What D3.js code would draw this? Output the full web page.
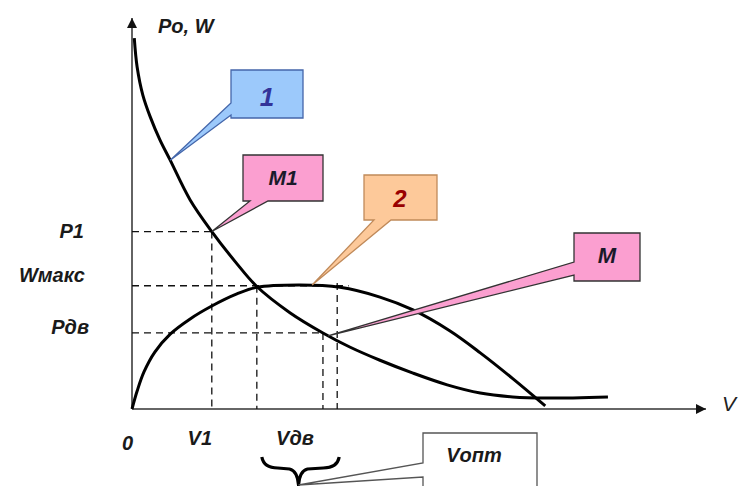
<!DOCTYPE html>
<html lang="ru">
<head>
<meta charset="UTF-8">
<title>Po, W (V)</title>
<script src="https://d3js.org/d3.v7.min.js"></script>
<style>
    body { margin: 0; background: #fff; }
    text { font-family: "Liberation Sans", Arial, sans-serif; font-weight: bold; font-style: italic; fill: #1a1a1a; }
</style>
</head>
<body>
<svg id="chart" width="738" height="486"></svg>
<script>
// curve 1: Po(V)
const vPo = [0.04, 0.09, 0.19, 0.32, 0.49, 0.67, 1.02, 1.40, 1.81, 2.19, 2.77, 3.35, 3.82, 4.35, 4.93, 5.53, 6.11, 6.68, 7.25, 8.35];
const po  = [9.51, 8.77, 8.05, 7.49, 6.90, 6.38, 5.36, 4.55, 3.78, 3.14, 2.47, 1.95, 1.59, 1.25, 0.92, 0.62, 0.41, 0.31, 0.28, 0.31];
// curve 2: W(V)
const vW = [0, 0.09, 0.21, 0.40, 0.67, 1.02, 1.40, 1.84, 2.19, 2.95, 3.65, 4.35, 4.93, 5.58, 6.11, 6.68, 7.25];
const w  = [0, 0.46, 0.95, 1.46, 1.92, 2.31, 2.64, 2.95, 3.12, 3.18, 3.12, 2.87, 2.54, 2.00, 1.44, 0.78, 0.08];

// levels on the vertical axis
const levelNames  = ["P1", "Wмакс", "Pдв"];
const levelValues = [4.55, 3.16, 1.95];
// speeds on the horizontal axis
const speedNames  = ["0", "V1", "Vдв"];
const speedValues = [0, 1.40, 3.35];
const vWmax = 2.19;           // V where Po = Wмакс
const vOpt  = [2.19, 3.60];   // optimal range

const svg = d3.select("#chart");
const x = d3.scaleLinear().domain([0, 10]).range([132, 702]);
const y = d3.scaleLinear().domain([0, 10]).range([409, 19]);

// arrow marker
svg.append("defs").append("marker")
    .attr("id", "arrow").attr("viewBox", "0 0 10 10")
    .attr("refX", 10).attr("refY", 5)
    .attr("markerWidth", 13).attr("markerHeight", 10)
    .attr("markerUnits", "userSpaceOnUse").attr("orient", "auto")
    .append("path").attr("d", "M0,0 L10,5 L0,10 Z").attr("fill", "#111");

// axes
svg.append("line").attr("x1", x(0)).attr("y1", y(0)).attr("x2", x(0)).attr("y2", 18)
    .attr("stroke", "#222").attr("stroke-width", 1.4).attr("marker-end", "url(#arrow)");
svg.append("line").attr("x1", x(0)).attr("y1", y(0)).attr("x2", 706).attr("y2", y(0))
    .attr("stroke", "#333").attr("stroke-width", 1.4).attr("marker-end", "url(#arrow)");

// dashed guides
const guides = [
    [[0, levelValues[0]], [speedValues[1], levelValues[0]]],
    [[speedValues[1], levelValues[0]], [speedValues[1], 0]],
    [[0, levelValues[1]], [vOpt[1] + 0.2, levelValues[1]]],
    [[vWmax, levelValues[1]], [vWmax, 0]],
    [[vOpt[1], levelValues[1] + 0.07], [vOpt[1], 0]],
    [[0, levelValues[2]], [speedValues[2], levelValues[2]]],
    [[speedValues[2], levelValues[2]], [speedValues[2], 0]]
];
svg.append("g").selectAll("line").data(guides).join("line")
    .attr("x1", d => x(d[0][0])).attr("y1", d => y(d[0][1]))
    .attr("x2", d => x(d[1][0])).attr("y2", d => y(d[1][1]))
    .attr("stroke", "#111").attr("stroke-width", 1.3).attr("stroke-dasharray", "7,5");

// curves
const line = d3.line().x(d => x(d[0])).y(d => y(d[1])).curve(d3.curveCatmullRom.alpha(0.5));
svg.append("path").attr("d", line(d3.zip(vPo, po)))
    .attr("fill", "none").attr("stroke", "#000").attr("stroke-width", 3);
svg.append("path").attr("d", line(d3.zip(vW, w)))
    .attr("fill", "none").attr("stroke", "#000").attr("stroke-width", 3);

// axis labels
svg.append("text").attr("x", 158).attr("y", 33).attr("font-size", 20).text("Po, W");
svg.append("text").attr("x", 722).attr("y", 411).attr("font-size", 21)
    .style("font-weight", "normal").style("fill", "#222").text("V");

const levelEnd = [84, 85, 89], levelDy = [6.5, -4, 1];
svg.append("g").selectAll("text").data(levelNames).join("text")
    .attr("x", (d, i) => levelEnd[i])
    .attr("y", (d, i) => y(levelValues[i]) + levelDy[i])
    .attr("text-anchor", "end").attr("font-size", 20).text(d => d);

const speedX = [x(speedValues[0]) + 1, x(speedValues[1]) - 12, (x(vOpt[0]) + x(vOpt[1])) / 2 - 2];
const speedY = [450, 445, 445];
svg.append("g").selectAll("text").data(speedNames).join("text")
    .attr("x", (d, i) => speedX[i]).attr("y", (d, i) => speedY[i])
    .attr("text-anchor", (d, i) => i === 0 ? "end" : "middle")
    .attr("font-size", 20).text(d => d);

// brace under the optimal range
const bx1 = x(vOpt[0]) + 5, bx2 = x(vOpt[1]) + 2, bm = (bx1 + bx2) / 2 - 2, by = 457;
svg.append("path")
    .attr("d", `M${bx1},${by} Q${bx1 + 2},${by + 11} ${bx1 + 16},${by + 11} L${bm - 9},${by + 12} Q${bm - 1},${by + 14} ${bm},${by + 28}`
        + ` Q${bm + 1},${by + 14} ${bm + 9},${by + 12} L${bx2 - 16},${by + 11} Q${bx2 - 2},${by + 11} ${bx2},${by}`)
    .attr("fill", "none").attr("stroke", "#000").attr("stroke-width", 3.2).attr("stroke-linejoin", "round");

// callouts
function callout(b, side, a, c, tip, fill, stroke) {
    let p;
    if (side === "left") {
        p = `M${b[0]},${b[1]} L${b[2]},${b[1]} L${b[2]},${b[3]} L${b[0]},${b[3]} L${b[0]},${c} L${tip[0]},${tip[1]} L${b[0]},${a} Z`;
    } else {
        p = `M${b[0]},${b[1]} L${b[2]},${b[1]} L${b[2]},${b[3]} L${c},${b[3]} L${tip[0]},${tip[1]} L${a},${b[3]} L${b[0]},${b[3]} Z`;
    }
    svg.append("path").attr("d", p).attr("fill", fill).attr("stroke", stroke)
        .attr("stroke-width", 1.3).attr("stroke-linejoin", "miter");
}
function label(t, cx, by, size, color) {
    svg.append("text").attr("x", cx).attr("y", by).attr("text-anchor", "middle")
        .attr("font-size", size).style("fill", color).text(t);
}

callout([231, 70, 303, 118], "left", 103, 115, [x(vPo[5]), y(po[5])], "#9cc9fb", "#4466aa");
label("1", 267, 106, 26, "#333399");

callout([243, 155, 323, 201], "bottom", 250, 268, [x(speedValues[1]), y(levelValues[0])], "#fb9fd0", "#333");
label("M1", 283, 185, 21, "#1a1a2a");

callout([364, 175, 437, 220], "bottom", 374, 391, [x(3.16), y(3.18)], "#fdc99a", "#c08a5a");
label("2", 400, 207, 24, "#990000");

callout([574, 233, 640, 281], "left", 262, 275, [x(speedValues[2]) + 5, y(levelValues[2]) + 3], "#fb9fd0", "#333");
label("M", 607, 263, 22, "#1a1a2a");

callout([423, 433, 537, 496], "left", 463, 477, [bm, by + 28], "#fff", "#555");
label("Vопт", 474, 462, 20, "#1a1a1a");
</script>
</body>
</html>
